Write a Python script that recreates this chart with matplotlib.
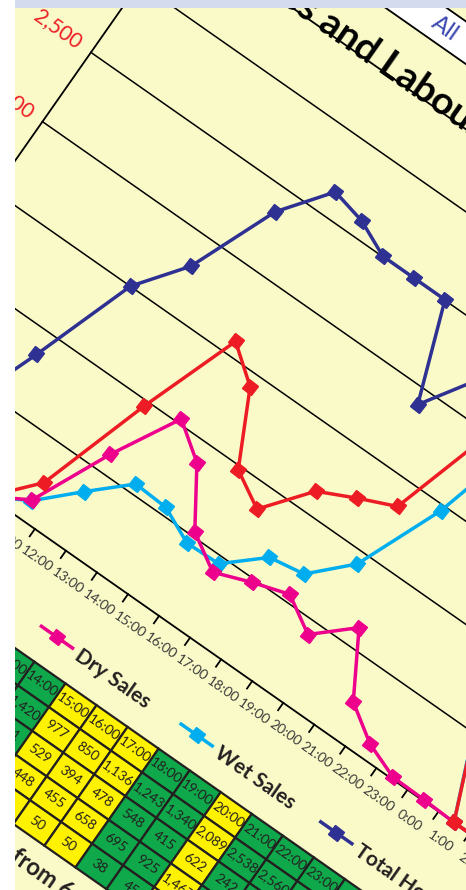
import numpy as np
import matplotlib.pyplot as plt
from matplotlib.transforms import Affine2D
from matplotlib.markers import MarkerStyle
from matplotlib.patches import Rectangle

plt.rcParams['font.family'] = ['Lato', 'DejaVu Sans']

# hourly trading data, 6:00 through 5:00 next morning
hours = ['6:00', '7:00', '8:00', '9:00', '10:00', '11:00', '12:00', '13:00',
         '14:00', '15:00', '16:00', '17:00', '18:00', '19:00', '20:00', '21:00',
         '22:00', '23:00', '0:00', '1:00', '2:00', '3:00', '4:00', '5:00']
total_sales = [0, 0, 0, 0, 0, 256, 965, 1590, 1420, 977, 850, 1136, 1243, 1340,
               2089, 2538, 2560, 1892, 538, 0, 0, 0, 0, 0]
dry_sales = [0, 0, 0, 0, 0, 131, 617, 1030, 871, 529, 394, 478, 548, 415,
             622, 242, 95, 12, 8, 0, 0, 0, 0, 0]
wet_sales = [0, 0, 0, 0, 0, 125, 348, 560, 549, 448, 455, 658, 695, 925,
             1467, 2296, 2465, 1880, 530, 0, 0, 0, 0, 0]
total_hours = [2, 3, 5, 17, 30, 36, 47, 53, 52, 50, 50, 50, 38, 45,
               52, 55, 55, 50, 36, 20, 8, 2, 0, 0]
# g = on target, y = below target
band = ['g', 'g', 'g', 'g', 'g', 'g', 'g', 'g', 'g', 'y', 'y', 'y',
        'g', 'g', 'y', 'g', 'g', 'g', 'g', 'g', 'g', 'g', 'g', 'g']
sales_ticks = [500, 1000, 1500, 2000, 2500, 3000]
sales_max = 3400

BG = '#fafac8'
INK = '#231f20'
RED = '#ed1c24'
MAGENTA = '#ec008c'
CYAN = '#00aeef'
NAVY = '#2e3192'
GREEN = '#0fa84b'
YELLOW = '#fff200'

ANG = 35.0
W = 37.9            # px per hour slot
ORIGIN = (-151.4, 398.5)
PX_SALES = 0.169    # px per sales unit
PX_HOURS = 8.46     # px per labour hour
HOURS_SHIFT = -4.0  # secondary category axis sits a little left
ROW_H = 29.0
TABLE_TOP = -109.0

fig = plt.figure(figsize=(4.66, 8.90), dpi=100)
fig.patch.set_facecolor(BG)
ax = fig.add_axes([0, 0, 1, 1])
ax.set_xlim(0, 466)
ax.set_ylim(890, 0)
ax.axis('off')

# the whole chart is tilted: frame u runs along the time axis, v upward
c, s = np.cos(np.radians(ANG)), np.sin(np.radians(ANG))
frame = Affine2D(np.array([[c, s, ORIGIN[0]], [s, -c, ORIGIN[1]], [0, 0, 1]])) + ax.transData
sales_tr = Affine2D().scale(W, PX_SALES).translate(W / 2, 0) + frame
hours_tr = Affine2D().scale(W, PX_HOURS).translate(W / 2 + HOURS_SHIFT, 0) + frame
n = len(hours)
x = np.arange(n)

def tilted(u, v, txt, **kw):
    ax.text(u, v, txt, transform=frame, rotation=-ANG, rotation_mode='anchor', **kw)

# grid, plot border and axes
for t in sales_ticks:
    ax.plot([-0.5, n - 0.5], [t, t], color='black', lw=1.1, transform=sales_tr, zorder=1)
ax.plot([-0.5, n - 0.5], [sales_max, sales_max], color='black', lw=1.3,
        transform=sales_tr, zorder=2)
ax.plot([-0.5, n - 0.5], [0, 0], color='black', lw=1.3, transform=sales_tr, zorder=2)
ax.plot([-0.5, -0.5], [0, sales_max], color='black', lw=1.3, transform=sales_tr, zorder=2)
for k in range(n + 1):
    ax.plot([k * W, k * W], [0, -9], color='black', lw=1.3, transform=frame, zorder=2)
for i, h in enumerate(hours):
    tilted(i * W + W / 2, -24, h, ha='center', va='center', fontsize=10, color='#3a3a3a')
for t in sales_ticks:
    tilted(-40, t * PX_SALES, f'{t:,}', ha='center', va='center', fontsize=15, color=RED)

# series
sq = MarkerStyle('s', transform=Affine2D().rotate_deg(-ANG))
series = [(wet_sales, CYAN, sales_tr, 3), (dry_sales, MAGENTA, sales_tr, 4),
          (total_hours, NAVY, hours_tr, 5), (total_sales, RED, sales_tr, 6)]
for vals, col, tr, z in series:
    ax.plot(x, vals, color=col, lw=2.5, marker=sq, ms=7.8, mec=col, mfc=col,
            transform=tr, zorder=z)

# legend
legend = [('Dry Sales', MAGENTA), ('Wet Sales', CYAN), ('Total Hours', NAVY), ('Total Sales', RED)]
for j, (lab, col) in enumerate(legend):
    u0 = 307.6 + 170.5 * j
    ax.plot([u0 - 19, u0 + 19], [-76, -76], color=col, lw=2.5, transform=frame, zorder=5)
    ax.plot([u0], [-76], color=col, marker=sq, ms=7.8, transform=frame, zorder=5)
    tilted(u0 + 26, -78, lab, ha='left', va='center', fontsize=15, weight='bold', color=INK)

# data table under the chart
rows = [hours, [f'{v:,}' for v in total_sales], [f'{v:,}' for v in dry_sales],
        [f'{v:,}' for v in wet_sales], [f'{v:,}' for v in total_hours]]
for i in range(n):
    fc = GREEN if band[i] == 'g' else YELLOW
    for r, row in enumerate(rows):
        top = TABLE_TOP - r * ROW_H
        ax.add_patch(Rectangle((i * W, top - ROW_H), W, ROW_H, transform=frame,
                               facecolor=fc, edgecolor=INK, lw=1.6, zorder=3))
        tilted(i * W + W / 2, top - ROW_H / 2, row[i], ha='center', va='center',
               fontsize=10, color=INK, zorder=4)
tilted(396, -279, 'from 6am', ha='left', va='center', fontsize=17, weight='bold', color=INK)

# title and the filter box above it
tilted(276, 572, 'Sales and Labour Hours', ha='center', va='baseline', fontsize=28,
       weight='bold', color='black', zorder=3)
ax.add_patch(Rectangle((150, 628), 600, 35, transform=frame, facecolor='white',
                       edgecolor='black', lw=1.3, zorder=2))
tilted(262, 645, 'All', ha='left', va='center', fontsize=17, color='#3a46b0', zorder=3)

# page margins
ax.add_patch(Rectangle((0, 0), 15, 890, facecolor='white', edgecolor='none', zorder=20))
ax.add_patch(Rectangle((15, 0), 451, 8, facecolor='#d5dbee', edgecolor='none', zorder=20))

fig.savefig('out.png', dpi=100, facecolor=fig.get_facecolor())
